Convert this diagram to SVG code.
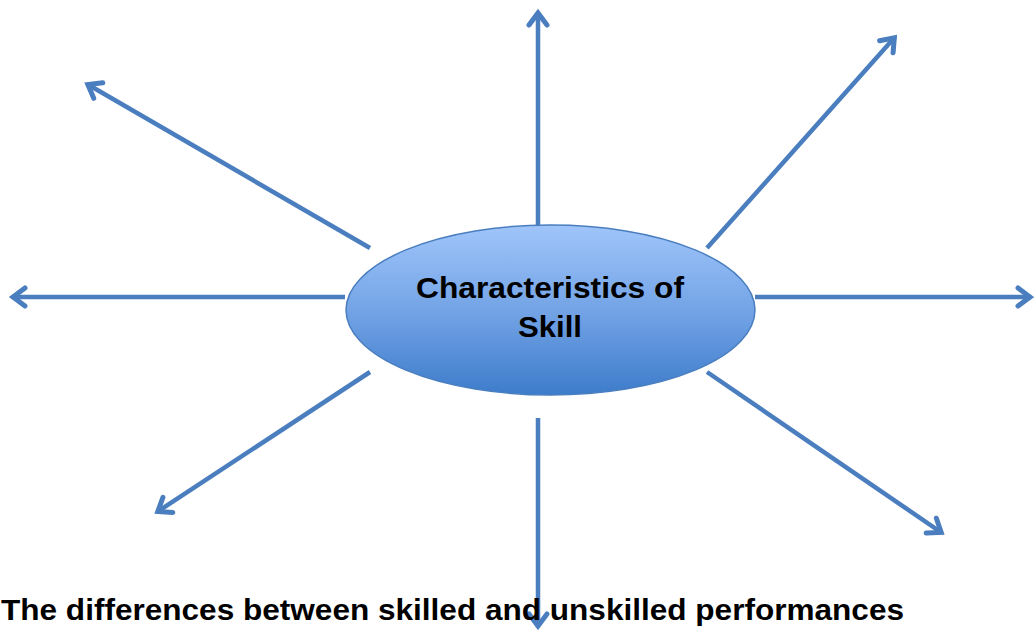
<svg xmlns="http://www.w3.org/2000/svg" width="1034" height="630" viewBox="0 0 1034 630">
<defs>
<linearGradient id="g" x1="0" y1="0" x2="0" y2="1">
<stop offset="0" stop-color="#9FC5FA"/>
<stop offset="0.5" stop-color="#74A4E6"/>
<stop offset="1" stop-color="#3D7CCB"/>
</linearGradient>
<marker id="ah" markerUnits="userSpaceOnUse" markerWidth="30" markerHeight="30" refX="0" refY="0" viewBox="-20 -15 30 30" orient="auto">
<path d="M-13,-9 L-1,0 L-13,9" fill="none" stroke="#4A7EBF" stroke-width="5" stroke-linecap="round" stroke-linejoin="miter"/>
</marker>
<style>
.c{stroke:#4A7EBF;stroke-width:4.5;fill:none;marker-end:url(#ah)}
.t{font-family:"Liberation Sans",Arial,sans-serif;font-weight:bold;fill:#000}
</style>
</defs>
<rect width="1034" height="630" fill="#fff"/>
<g id="connectors">
<line class="c" x1="538" y1="226" x2="538" y2="12"/>
<line class="c" x1="370" y1="248" x2="87" y2="84"/>
<line class="c" x1="707" y1="248" x2="895" y2="37"/>
<line class="c" x1="345" y1="297" x2="12" y2="297"/>
<line class="c" x1="755" y1="297" x2="1031" y2="297"/>
<line class="c" x1="370" y1="372" x2="157" y2="512"/>
<line class="c" x1="538" y1="418" x2="538" y2="627"/>
<line class="c" x1="707" y1="372" x2="942" y2="533"/>
</g>
<g id="center">
<ellipse cx="550.5" cy="310" rx="204.5" ry="85" fill="url(#g)" stroke="#4A7EBF" stroke-width="1.5"/>
<text class="t" x="550" y="298" font-size="30" text-anchor="middle" textLength="268" lengthAdjust="spacingAndGlyphs">Characteristics of</text>
<text class="t" x="550" y="337" font-size="30" text-anchor="middle" textLength="64" lengthAdjust="spacingAndGlyphs">Skill</text>
</g>
<g id="caption">
<text class="t" x="1" y="620" font-size="29" textLength="903" lengthAdjust="spacingAndGlyphs">The differences between skilled and unskilled performances</text>
</g>
</svg>
